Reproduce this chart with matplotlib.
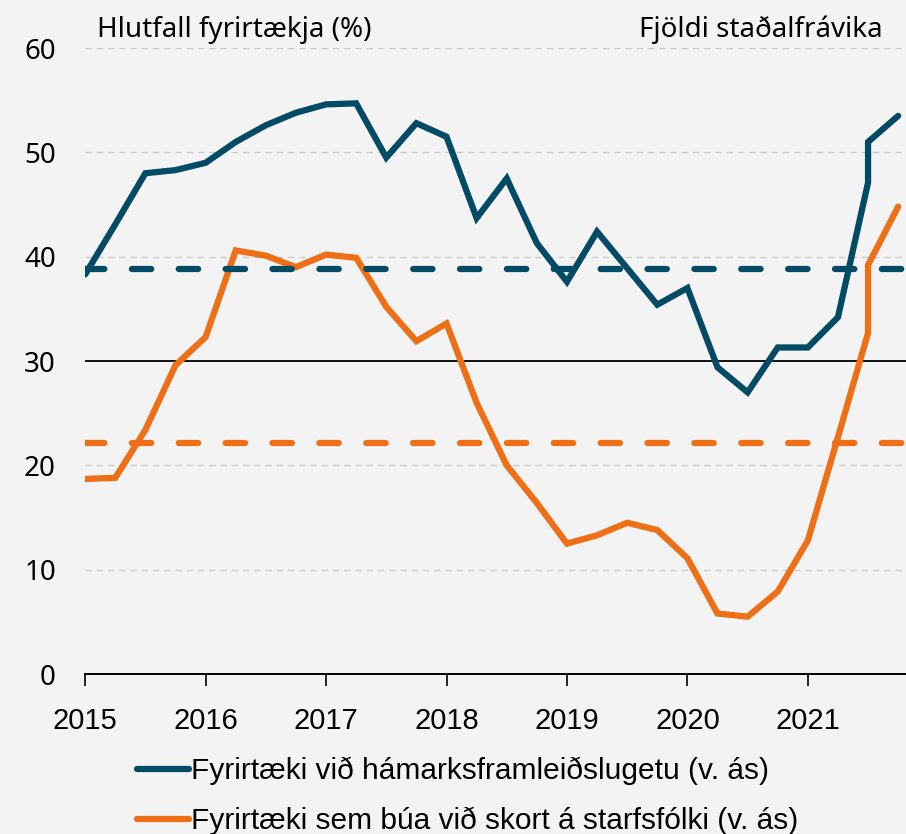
import matplotlib.pyplot as plt

# quarterly survey dates (decimal years); 2021 Q3 has two readings
dates = [2015.0, 2015.25, 2015.5, 2015.75,
         2016.0, 2016.25, 2016.5, 2016.75,
         2017.0, 2017.25, 2017.5, 2017.75,
         2018.0, 2018.25, 2018.5, 2018.75,
         2019.0, 2019.25, 2019.5, 2019.75,
         2020.0, 2020.25, 2020.5, 2020.75,
         2021.0, 2021.25, 2021.5, 2021.5, 2021.75]

capacity = [38.3, 43.1, 48.0, 48.3,
            49.0, 51.0, 52.6, 53.8,
            54.6, 54.7, 49.5, 52.8,
            51.5, 43.7, 47.5, 41.3,
            37.6, 42.4, 38.9, 35.4,
            37.0, 29.4, 27.0, 31.3,
            31.3, 34.2, 47.1, 51.0, 53.5]

labour = [18.7, 18.8, 23.4, 29.6,
          32.3, 40.6, 40.1, 39.0,
          40.2, 39.9, 35.2, 31.9,
          33.6, 26.0, 20.0, 16.4,
          12.5, 13.3, 14.5, 13.8,
          11.1, 5.8, 5.5, 7.9,
          12.8, 22.7, 32.7, 39.2, 44.8]

capacity_avg = 38.8
labour_avg = 22.1

years = [2015, 2016, 2017, 2018, 2019, 2020, 2021]
yticks = [0, 10, 20, 30, 40, 50, 60]

blue = "#034a64"
orange = "#ee6f15"
bg = "#f3f3f3"

fig = plt.figure(figsize=(9.06, 8.34), dpi=100, facecolor=bg)
ax = fig.add_axes([0.094, 0.1918, 0.906, 0.7506], facecolor=bg)

for y in [10, 20, 40, 50, 60]:
    ax.axhline(y, color="#c8c8c8", lw=0.9, ls=(0, (5, 4)), zorder=1)
ax.axhline(30, color="black", lw=1.3, zorder=1)

ax.plot(dates, capacity, color=blue, lw=4.5, solid_capstyle="round",
        solid_joinstyle="miter", label="Fyrirtæki við hámarksframleiðslugetu (v. ás)", zorder=3)
ax.plot(dates, labour, color=orange, lw=4.5, solid_capstyle="round",
        solid_joinstyle="miter", label="Fyrirtæki sem búa við skort á starfsfólki (v. ás)", zorder=3)

ax.axhline(capacity_avg, color=blue, lw=4.5, dashes=(3.1, 4.4),
           dash_capstyle="round", zorder=4)
ax.axhline(labour_avg, color=orange, lw=4.5, dashes=(3.1, 4.4),
           dash_capstyle="round", zorder=4)

ax.set_xlim(2015, 2021.815)
ax.set_ylim(0, 60)

for s in ["left", "right", "top"]:
    ax.spines[s].set_visible(False)
ax.spines["bottom"].set_linewidth(1.4)
ax.spines["bottom"].set_zorder(5)

ax.set_xticks(years)
ax.set_xticklabels([str(y) for y in years], fontsize=21, family="Liberation Sans")
ax.tick_params(axis="x", length=8.6, width=1.2, pad=15)
ax.set_yticks(yticks)
ax.set_yticklabels([str(y) for y in yticks], fontsize=20, family="Noto Sans")
ax.tick_params(axis="y", length=0, pad=21)

fig.text(97 / 906, 1 - 37 / 834, "Hlutfall fyrirtækja (%)", fontsize=20,
         family="Noto Sans", va="baseline", ha="left")
fig.text(883 / 906, 1 - 37 / 834, "Fjöldi staðalfrávika", fontsize=20,
         family="Noto Sans", va="baseline", ha="right")

leg = fig.legend(loc="upper left", bbox_to_anchor=(137 / 906, 1 - 757 / 834),
                 frameon=False, prop={"family": "Liberation Sans", "size": 21.5},
                 handlelength=1.75, handletextpad=0.05, labelspacing=0.72,
                 borderpad=0, borderaxespad=0)
for line in leg.get_lines():
    line.set_solid_capstyle("round")

fig.savefig("out.png", dpi=100, facecolor=bg)
